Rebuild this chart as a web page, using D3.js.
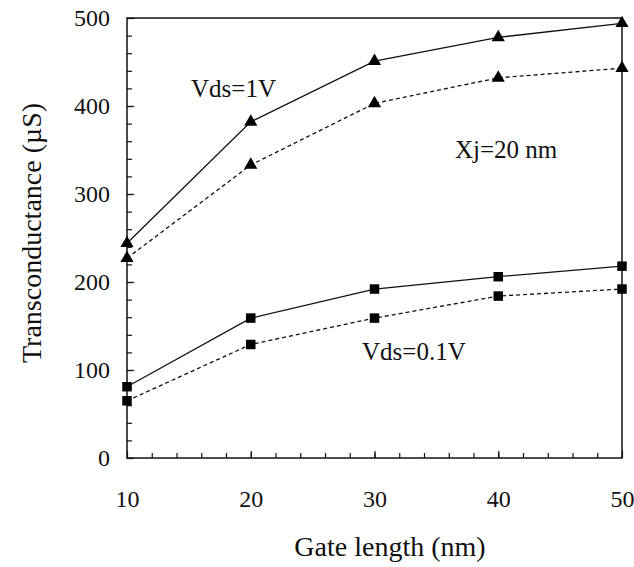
<!DOCTYPE html>
<html>
<head>
<meta charset="utf-8">
<script src="https://cdn.jsdelivr.net/npm/d3@7"></script>
<style>
  body { margin: 0; background: #fff; }
  svg text { font-family: "Liberation Serif", "Times New Roman", serif; fill: #111; }
</style>
</head>
<body>
<script>
const width = 634;
const height = 567;

// gate length (nm)
const gateLength = [10, 20, 30, 40, 50];
// transconductance (uS)
const vds1Solid = [244, 382, 451, 478, 494];
const vds1Dashed = [227, 333, 403, 432, 443];
const vds01Solid = [81, 159, 192, 206, 218];
const vds01Dashed = [65, 129, 159, 184, 192];

const xTicks = [10, 20, 30, 40, 50];
const yTicks = [0, 100, 200, 300, 400, 500];

const margin = { left: 127, right: 12, top: 18, bottom: 109 };
const serif = "Liberation Serif, Times New Roman, serif";

const x = d3.scaleLinear().domain([10, 50]).range([margin.left, width - margin.right]);
const y = d3.scaleLinear().domain([0, 500]).range([height - margin.bottom, margin.top]);

const svg = d3.select("body").append("svg")
  .attr("width", width)
  .attr("height", height);

// cornice
svg.append("rect")
  .attr("x", x(10)).attr("y", y(500))
  .attr("width", x(50) - x(10)).attr("height", y(0) - y(500))
  .attr("fill", "none").attr("stroke", "#111").attr("stroke-width", 1.5);

// tacche asse x
svg.append("g")
  .attr("transform", `translate(0,${y(0)})`)
  .call(d3.axisBottom(x).tickValues(d3.range(12, 50, 2)).tickSize(-5).tickFormat(""))
  .call(g => g.select(".domain").remove())
  .call(g => g.selectAll("line").attr("stroke", "#111").attr("stroke-width", 1.2));

svg.append("g")
  .attr("transform", `translate(0,${y(0)})`)
  .attr("font-family", serif)
  .call(d3.axisBottom(x).tickValues(xTicks).tickSize(-7).tickPadding(32))
  .call(g => g.select(".domain").remove())
  .call(g => g.selectAll("line").attr("stroke", "#111").attr("stroke-width", 1.2))
  .call(g => g.selectAll("text").attr("font-size", 24).attr("font-family", serif).attr("fill", "#111"));

// tacche asse y
svg.append("g")
  .attr("transform", `translate(${x(10)},0)`)
  .call(d3.axisLeft(y).tickValues(d3.range(20, 500, 20)).tickSize(-5).tickFormat(""))
  .call(g => g.select(".domain").remove())
  .call(g => g.selectAll("line").attr("stroke", "#111").attr("stroke-width", 1.2));

svg.append("g")
  .attr("transform", `translate(${x(10)},0)`)
  .attr("font-family", serif)
  .call(d3.axisLeft(y).tickValues(yTicks).tickSize(-7).tickPadding(17))
  .call(g => g.select(".domain").remove())
  .call(g => g.selectAll("line").attr("stroke", "#111").attr("stroke-width", 1.2))
  .call(g => g.selectAll("text").attr("font-size", 24).attr("font-family", serif).attr("fill", "#111"));

// serie
const series = [
  { values: vds1Solid, dash: null, marker: "triangle" },
  { values: vds1Dashed, dash: "4,3", marker: "triangle" },
  { values: vds01Solid, dash: null, marker: "square" },
  { values: vds01Dashed, dash: "4,3", marker: "square" }
];

const line = d3.line()
  .x((d, i) => x(gateLength[i]))
  .y(d => y(d));

series.forEach(s => {
  svg.append("path")
    .attr("d", line(s.values))
    .attr("fill", "none")
    .attr("stroke", "#111")
    .attr("stroke-width", 1.3)
    .attr("stroke-dasharray", s.dash);

  const sym = d3.symbol()
    .type(s.marker === "triangle" ? d3.symbolTriangle : d3.symbolSquare)
    .size(s.marker === "triangle" ? 75 : 90);

  svg.append("g").selectAll("path")
    .data(s.values)
    .join("path")
    .attr("transform", (d, i) => `translate(${x(gateLength[i])},${y(d)})`)
    .attr("d", sym)
    .attr("fill", "#000");
});

// annotazioni
svg.append("text").attr("x", 191).attr("y", 97).attr("font-size", 25).text("Vds=1V");
svg.append("text").attr("x", 455).attr("y", 158).attr("font-size", 25).text("Xj=20 nm");
svg.append("text").attr("x", 362).attr("y", 360).attr("font-size", 25).text("Vds=0.1V");

// titoli assi
svg.append("text")
  .attr("x", 390)
  .attr("y", 556)
  .attr("text-anchor", "middle")
  .attr("font-size", 28)
  .text("Gate length (nm)");

svg.append("text")
  .attr("transform", `translate(41,233) rotate(-90)`)
  .attr("text-anchor", "middle")
  .attr("font-size", 28)
  .text("Transconductance  (\u00b5S)");
</script>
</body>
</html>
